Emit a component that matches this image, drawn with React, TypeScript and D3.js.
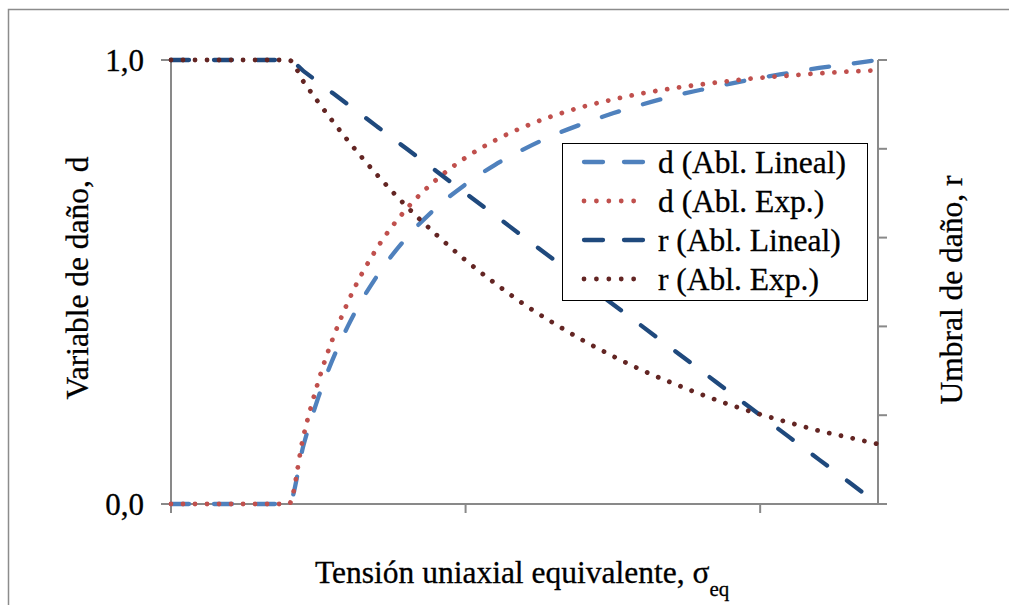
import React from 'react';
import * as d3 from 'd3';

// Tensión uniaxial equivalente (eje X)
const sigma = [0, 0.2, 0.4, 0.45, 0.5, 0.6, 0.7, 0.8, 0.9, 1.0, 1.1, 1.2, 1.3, 1.4, 1.5, 1.6, 1.7, 1.8, 1.9, 2.0, 2.1, 2.2, 2.3, 2.4];

// Variable de daño (eje izquierdo)
const dLineal = [0, 0, 0, 0.133, 0.24, 0.4, 0.514, 0.6, 0.667, 0.72, 0.764, 0.8, 0.831, 0.857, 0.88, 0.9, 0.918, 0.933, 0.947, 0.96, 0.971, 0.982, 0.991, 1.0];
const dExp = [0, 0, 0, 0.154, 0.276, 0.454, 0.577, 0.665, 0.73, 0.78, 0.819, 0.85, 0.875, 0.895, 0.911, 0.925, 0.936, 0.945, 0.953, 0.96, 0.965, 0.97, 0.974, 0.977];

// Umbral de daño (eje derecho)
const rLineal = [1, 1, 1, 0.975, 0.95, 0.9, 0.85, 0.8, 0.75, 0.7, 0.65, 0.6, 0.55, 0.5, 0.45, 0.4, 0.35, 0.3, 0.25, 0.2, 0.15, 0.1, 0.05, 0];
const rExp = [1, 1, 1, 0.951, 0.905, 0.819, 0.741, 0.67, 0.607, 0.549, 0.497, 0.449, 0.407, 0.368, 0.333, 0.301, 0.273, 0.247, 0.223, 0.202, 0.183, 0.165, 0.15, 0.135];

const xTicks = [0, 1, 2];
const leftTicks = [0, 1];
const leftTickLabels = ['0,0', '1,0'];
const rightTicks = [0, 0.2, 0.4, 0.6, 0.8, 1];

const seriesNames = ['d (Abl. Lineal)', 'd (Abl. Exp.)', 'r (Abl. Lineal)', 'r (Abl. Exp.)'];

const FONT = "'Liberation Serif', 'Times New Roman', serif";
const AXIS = '#898989';
const FS = 31.5;

export default function App() {
  const x = d3.scaleLinear().domain([0, 2.4]).range([171, 878]);
  const yL = d3.scaleLinear().domain([0, 1]).range([504, 60]);
  const yR = d3.scaleLinear().domain([0, 1]).range([504, 60]);

  const mk = (vals: number[], y: d3.ScaleLinear<number, number>) =>
    d3.line<number>()
      .x((_, i) => x(sigma[i]))
      .y((v) => y(v))
      .curve(d3.curveMonotoneX)(vals) ?? '';

  const series = [
    { name: seriesNames[0], path: mk(dLineal, yL), color: '#4F81BD', dotted: false },
    { name: seriesNames[1], path: mk(dExp, yL), color: '#C0504D', dotted: true },
    { name: seriesNames[2], path: mk(rLineal, yR), color: '#1F497D', dotted: false },
    { name: seriesNames[3], path: mk(rExp, yR), color: '#632523', dotted: true },
  ];

  const txt = { fill: '#000', stroke: '#000', strokeWidth: 0.3 };

  return (
    <svg width={1009} height={605} style={{ position: 'absolute', left: 0, top: 0, background: '#fff', fontFamily: FONT }}>
      {/* outer chart border */}
      <rect x={8.5} y={9.5} width={1100} height={700} fill="#fff" stroke="#8c8c8c" strokeWidth={1.5} />

      {/* left axis */}
      <line x1={171} x2={171} y1={yL(1)} y2={yL(0)} stroke={AXIS} strokeWidth={2} />
      {leftTicks.map((t, i) => (
        <g key={'l' + t}>
          <line x1={161} x2={171} y1={yL(t)} y2={yL(t)} stroke={AXIS} strokeWidth={2} />
          <text x={144} y={yL(t) + 11} fontSize={31} textAnchor="end" {...txt}>{leftTickLabels[i]}</text>
        </g>
      ))}

      {/* right axis */}
      <line x1={878} x2={878} y1={yR(1)} y2={yR(0)} stroke={AXIS} strokeWidth={2} />
      {rightTicks.map((t) => (
        <line key={'r' + t} x1={878} x2={887} y1={yR(t)} y2={yR(t)} stroke={AXIS} strokeWidth={2} />
      ))}

      {/* x axis */}
      <line x1={161} x2={887} y1={yL(0)} y2={yL(0)} stroke={AXIS} strokeWidth={2} />
      {xTicks.map((t) => (
        <line key={'x' + t} x1={x(t)} x2={x(t)} y1={yL(0)} y2={yL(0) + 9} stroke={AXIS} strokeWidth={2} />
      ))}

      {/* series */}
      {series.map((s) => (
        <path key={s.name} d={s.path} fill="none" stroke={s.color} strokeWidth={s.dotted ? 4.8 : 4.3}
          strokeDasharray={s.dotted ? '0.01 12' : '18 25'} strokeLinecap="round" strokeLinejoin="round" />
      ))}

      {/* axis titles */}
      <text transform="translate(88,278) rotate(-90)" fontSize={FS} textAnchor="middle" {...txt}>Variable de daño, d</text>
      <text transform="translate(962,290) rotate(-90)" fontSize={FS} textAnchor="middle" {...txt}>Umbral de daño, r</text>
      <text x={315} y={583} fontSize={FS} {...txt}>
        Tensión uniaxial equivalente, σ<tspan fontSize={21} dy={13}>eq</tspan>
      </text>

      {/* legend */}
      <rect x={562.5} y={143.5} width={305} height={157} fill="#fff" stroke="#000" strokeWidth={1} />
      {series.map((s, i) => {
        const cy = 162 + i * 39;
        return (
          <g key={'lg' + s.name}>
            <line x1={584} x2={646} y1={cy} y2={cy} stroke={s.color} strokeWidth={s.dotted ? 4.8 : 4.3}
              strokeDasharray={s.dotted ? '0.01 12.4' : '19 21'} strokeLinecap="round" />
            <text x={658} y={cy} dy="0.35em" fontSize={FS} {...txt}>{s.name}</text>
          </g>
        );
      })}
    </svg>
  );
}
